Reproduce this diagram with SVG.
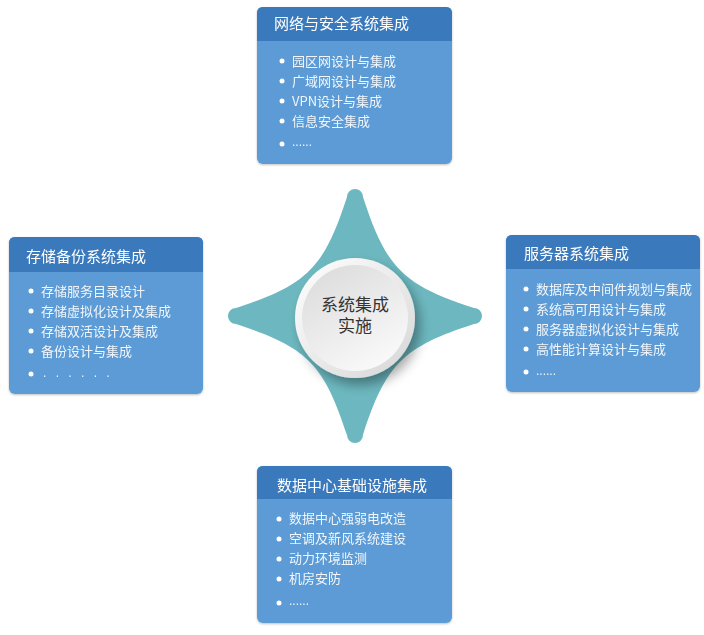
<svg xmlns="http://www.w3.org/2000/svg" width="704" height="635" viewBox="0 0 704 635">
<defs>
<style>
.body{fill:#5b9bd5}
.head{fill:#3a79bd}
.ht{font-family:"Noto Sans CJK SC","Noto Sans",sans-serif;font-size:15px;fill:#ffffff}
.li{font-family:"Noto Sans CJK SC","Noto Sans",sans-serif;font-size:13px;fill:#f2f6fb}
.dots{font-family:"Liberation Sans",sans-serif;font-size:12px;fill:#f2f6fb}
.bul{fill:#ffffff}
.ct{font-family:"Noto Sans CJK SC","Noto Sans",sans-serif;font-size:17px;fill:#333333;text-anchor:middle}
</style>
<filter id="bsh" x="-10%" y="-10%" width="120%" height="120%">
<feDropShadow dx="0" dy="1" stdDeviation="1.2" flood-color="#000" flood-opacity="0.25"/>
</filter>
<filter id="csh" x="-40%" y="-40%" width="180%" height="180%">
<feDropShadow dx="5" dy="7" stdDeviation="6" flood-color="#000" flood-opacity="0.35"/>
</filter>
<linearGradient id="ring" x1="0" y1="0" x2="1" y2="1">
<stop offset="0" stop-color="#ffffff"/>
<stop offset="1" stop-color="#d6d6d6"/>
</linearGradient>
<linearGradient id="disc" x1="0.2" y1="0" x2="0.8" y2="1">
<stop offset="0" stop-color="#dcdcdc"/>
<stop offset="1" stop-color="#fbfbfb"/>
</linearGradient>
</defs>
<rect width="704" height="635" fill="#ffffff"/>

<g id="connectors"></g>

<g id="star">
<path transform="translate(355,316)" fill="#6db8c0" d="M -8,-119 A 8 8 0 0 1 8,-119 C 31,-48 48,-31 119,-8 A 8 8 0 0 1 119,8 C 48,31 31,48 8,119 A 8 8 0 0 1 -8,119 C -31,48 -48,31 -119,8 A 8 8 0 0 1 -119,-8 C -48,-31 -31,-48 -8,-119 Z"/>
</g>

<g id="center">
<circle cx="355" cy="318" r="60" fill="url(#ring)" filter="url(#csh)"/>
<circle cx="355" cy="318" r="53" fill="url(#disc)"/>
<text class="ct" x="355" y="311">系统集成</text>
<text class="ct" x="355" y="332">实施</text>
</g>

<g id="box-network" filter="url(#bsh)">
<rect class="body" x="257" y="7" width="195" height="157" rx="6"/>
<path class="head" d="M257,41 V13 Q257,7 263,7 H446 Q452,7 452,13 V41 Z"/>
<text class="ht" x="274" y="29">网络与安全系统集成</text>
<circle class="bul" cx="282" cy="61" r="2.5"/><text class="li" x="292" y="66">园区网设计与集成</text>
<circle class="bul" cx="282" cy="81" r="2.5"/><text class="li" x="292" y="86">广域网设计与集成</text>
<circle class="bul" cx="282" cy="101" r="2.5"/><text class="li" x="292" y="106">VPN设计与集成</text>
<circle class="bul" cx="282" cy="121" r="2.5"/><text class="li" x="292" y="126">信息安全集成</text>
<circle class="bul" cx="282" cy="144" r="2.5"/><text class="dots" x="292" y="146">......</text>
</g>

<g id="box-storage" filter="url(#bsh)">
<rect class="body" x="9" y="237" width="194" height="157" rx="6"/>
<path class="head" d="M9,272 V243 Q9,237 15,237 H197 Q203,237 203,243 V272 Z"/>
<text class="ht" x="26" y="262">存储备份系统集成</text>
<circle class="bul" cx="31" cy="291" r="2.5"/><text class="li" x="41" y="296">存储服务目录设计</text>
<circle class="bul" cx="31" cy="311" r="2.5"/><text class="li" x="41" y="316">存储虚拟化设计及集成</text>
<circle class="bul" cx="31" cy="331" r="2.5"/><text class="li" x="41" y="336">存储双活设计及集成</text>
<circle class="bul" cx="31" cy="351" r="2.5"/><text class="li" x="41" y="356">备份设计与集成</text>
<circle class="bul" cx="31" cy="374" r="2.5"/><text class="dots" x="43" y="377" word-spacing="6">. . . . . .</text>
</g>

<g id="box-server" filter="url(#bsh)">
<rect class="body" x="506" y="235" width="194" height="157" rx="6"/>
<path class="head" d="M506,269 V241 Q506,235 512,235 H694 Q700,235 700,241 V269 Z"/>
<text class="ht" x="524" y="259">服务器系统集成</text>
<circle class="bul" cx="526" cy="289" r="2.5"/><text class="li" x="536" y="294">数据库及中间件规划与集成</text>
<circle class="bul" cx="526" cy="309" r="2.5"/><text class="li" x="536" y="314">系统高可用设计与集成</text>
<circle class="bul" cx="526" cy="329" r="2.5"/><text class="li" x="536" y="334">服务器虚拟化设计与集成</text>
<circle class="bul" cx="526" cy="349" r="2.5"/><text class="li" x="536" y="354">高性能计算设计与集成</text>
<circle class="bul" cx="526" cy="372" r="2.5"/><text class="dots" x="536" y="375">......</text>
</g>

<g id="box-datacenter" filter="url(#bsh)">
<rect class="body" x="257" y="466" width="195" height="157" rx="6"/>
<path class="head" d="M257,499 V472 Q257,466 263,466 H446 Q452,466 452,472 V499 Z"/>
<text class="ht" x="277" y="491">数据中心基础设施集成</text>
<circle class="bul" cx="279" cy="519" r="2.5"/><text class="li" x="289" y="523">数据中心强弱电改造</text>
<circle class="bul" cx="279" cy="539" r="2.5"/><text class="li" x="289" y="543">空调及新风系统建设</text>
<circle class="bul" cx="279" cy="559" r="2.5"/><text class="li" x="289" y="563">动力环境监测</text>
<circle class="bul" cx="279" cy="579" r="2.5"/><text class="li" x="289" y="583">机房安防</text>
<circle class="bul" cx="279" cy="603" r="2.5"/><text class="dots" x="289" y="605">......</text>
</g>
</svg>
